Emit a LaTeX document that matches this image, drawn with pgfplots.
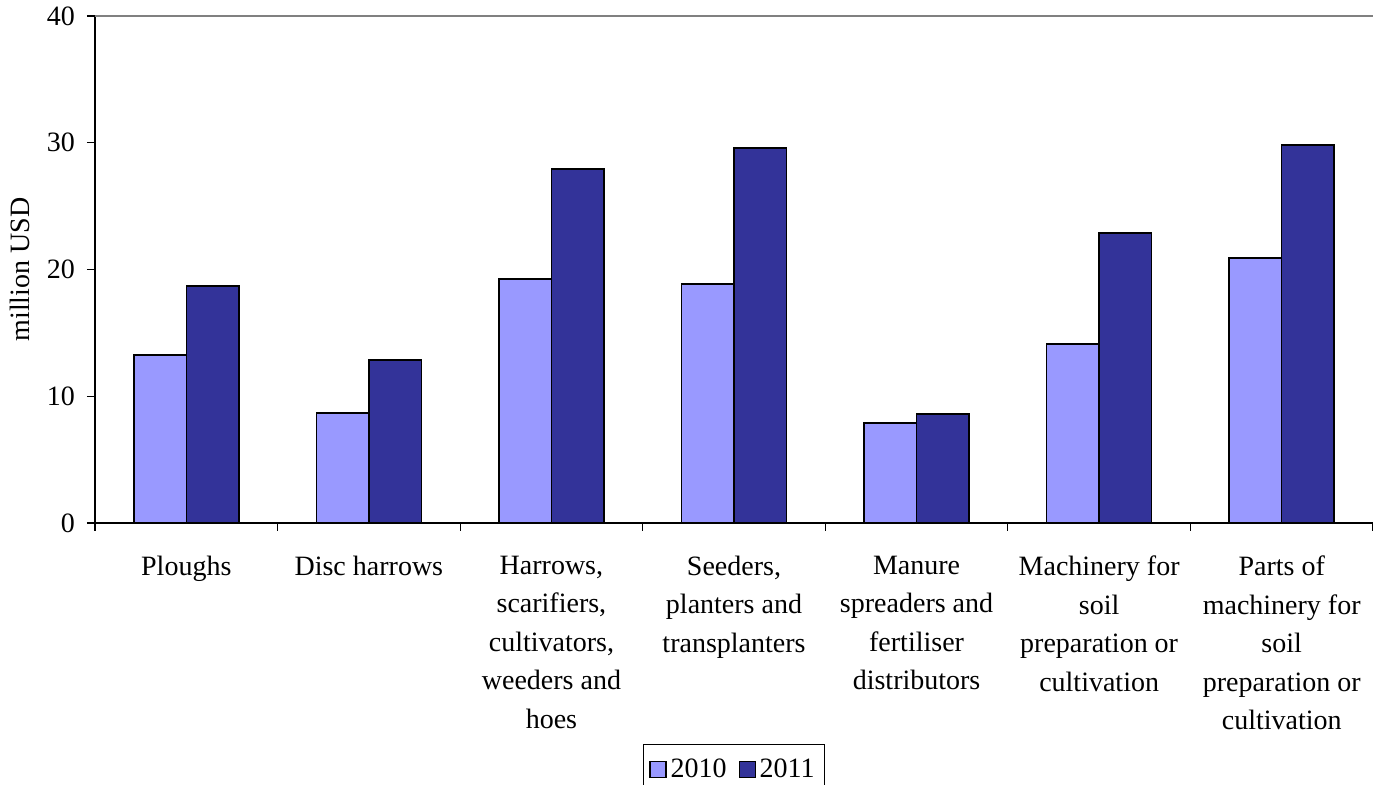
\documentclass[border=0pt]{standalone}
\usepackage{pgfplots}
\pgfplotsset{compat=1.18}
\usepackage{fontspec}
\setmainfont{Liberation Serif}
\definecolor{lightbar}{HTML}{9999FF}
\definecolor{darkbar}{HTML}{333399}
\newcommand{\chartfont}{\fontsize{14}{19.25}\selectfont}
\begin{document}
\begin{tikzpicture}
  \begin{axis}[
      width=639pt, height=253.5pt, scale only axis,
      xmin=-0.5, xmax=6.5, ymin=0, ymax=40,
      axis x line*=bottom, axis y line*=left,
      axis line style={line width=0.75pt, -},
      ytick={0,10,...,40},
      xtick={0,...,6},
      minor xtick={-0.5,0.5,...,6.5},
      major x tick style={draw=none},
      tick align=outside,
      major tick length=4pt, minor tick length=4pt,
      tick style={black, line width=0.6pt},
      xticklabels={Ploughs, Disc harrows,
        {Harrows,\\scarifiers,\\cultivators,\\weeders and\\hoes},
        {Seeders,\\planters and\\transplanters},
        {Manure\\spreaders and\\fertiliser\\distributors},
        {Machinery for\\soil\\preparation or\\cultivation},
        {Parts of\\machinery for\\soil\\preparation or\\cultivation}},
      xticklabel style={align=center, font=\chartfont, yshift=-9pt},
      yticklabel style={font=\chartfont, xshift=-2.5pt},
      /pgf/number format/assume math mode=true,
      ylabel={million USD},
      ylabel style={font=\chartfont, at={(axis description cs:-0.0587,0.5)}, anchor=center},
      ybar, bar width=0.2875,
      legend columns=2,
      legend style={at={(0.5,0)}, anchor=north, yshift=-110.5pt,
        draw=black, font=\chartfont, inner xsep=3pt, inner ysep=5pt,
        /tikz/every even column/.append style={column sep=4pt}},
      legend image code/.code={\draw[#1, line width=0.6pt] (0pt,-4pt) rectangle (8pt,4pt);},
    ]
    \addplot[fill=lightbar, draw=black, line width=0.75pt, bar shift=-0.14375] coordinates {
      (0,13.25) (1,8.68) (2,19.25) (3,18.86) (4,7.89) (5,14.12) (6,20.9)
    };
    \addplot[fill=darkbar, draw=black, line width=0.75pt, bar shift=0.14375] coordinates {
      (0,18.7) (1,12.86) (2,27.93) (3,29.59) (4,8.6) (5,22.88) (6,29.82)
    };
    \legend{2010, 2011}
    \draw[gray, line width=0.75pt] (rel axis cs:0,1) -- (rel axis cs:1,1);
    \coordinate (bl) at ([xshift=-47.5pt,yshift=-131pt]rel axis cs:0,0);
    \coordinate (tr) at ([yshift=8pt]rel axis cs:1,1);
  \end{axis}
  \pgfresetboundingbox
  \path[use as bounding box] (bl) rectangle (tr);
\end{tikzpicture}
\end{document}
